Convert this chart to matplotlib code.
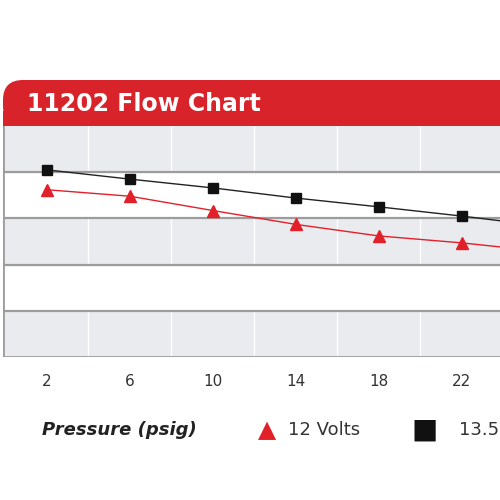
import matplotlib
matplotlib.use("Agg")
import matplotlib.pyplot as plt
from matplotlib.patches import FancyBboxPatch, Rectangle

pressure = [2, 6, 10, 14, 18, 22, 26]
flow_135v = [4.05, 3.85, 3.66, 3.44, 3.25, 3.05, 2.83]
flow_12v = [3.62, 3.48, 3.17, 2.87, 2.62, 2.47, 2.28]
tick_labels = ["2", "6", "10", "14", "18", "22"]

RED = "#d9232a"
fig = plt.figure(figsize=(5, 5), dpi=100)

# red header with rounded top-left corner
hdr = FancyBboxPatch((0.006, 0.748), 1.1, 0.092, boxstyle="round,pad=0,rounding_size=0.04",
                     transform=fig.transFigure, facecolor=RED, edgecolor="none")
fig.patches.append(hdr)
fig.patches.append(Rectangle((0.006, 0.748), 1.1, 0.03, transform=fig.transFigure,
                             facecolor=RED, edgecolor="none"))
fig.text(0.054, 0.792, "11202 Flow Chart", color="white", fontsize=17, fontweight="bold",
         va="center")

ax = fig.add_axes([0.006, 0.286, 1.2, 0.462])
ax.set_xlim(-0.12, 28.8)
ax.set_ylim(0, 5)
for i in range(5):
    if i % 2 == 0:
        ax.axhspan(i, i + 1, color="#e9ebef", zorder=0)
for y in range(1, 5):
    ax.axhline(y, color="#9c9c9c", lw=1.6, zorder=1)
ax.axhline(0, color="#9c9c9c", lw=2, zorder=1)
for x in range(4, 28, 4):
    ax.axvline(x, color="white", lw=1, zorder=0.5)
ax.axvline(-0.12, color="#9c9c9c", lw=2)

ax.plot(pressure, flow_135v, color="#222222", lw=1, marker="s", ms=7, mfc="#111111",
        mec="#111111", zorder=3)
ax.plot(pressure, flow_12v, color="#e2202a", lw=1, marker="^", ms=9, mfc="#e2202a",
        mec="#e2202a", zorder=3)

for s in ax.spines.values():
    s.set_visible(False)
ax.set_yticks([])
ax.set_xticks(pressure[:6])
ax.set_xticklabels(tick_labels, fontsize=11, color="#333333")
ax.tick_params(axis="x", length=0, pad=12)

# legend row
fig.text(0.084, 0.14, "Pressure (psig)", fontsize=13, fontweight="bold", style="italic",
         color="#222222", va="center")
fig.text(0.535, 0.14, "\u25B2", fontsize=17, color="#e2202a", va="center", ha="center")
fig.text(0.576, 0.14, "12 Volts", fontsize=13, color="#333333", va="center")
fig.text(0.85, 0.14, "\u25A0", fontsize=20, color="#111111", va="center", ha="center")
fig.text(0.918, 0.14, "13.5 Volts", fontsize=13, color="#333333", va="center")

fig.savefig("out.png", dpi=100)
